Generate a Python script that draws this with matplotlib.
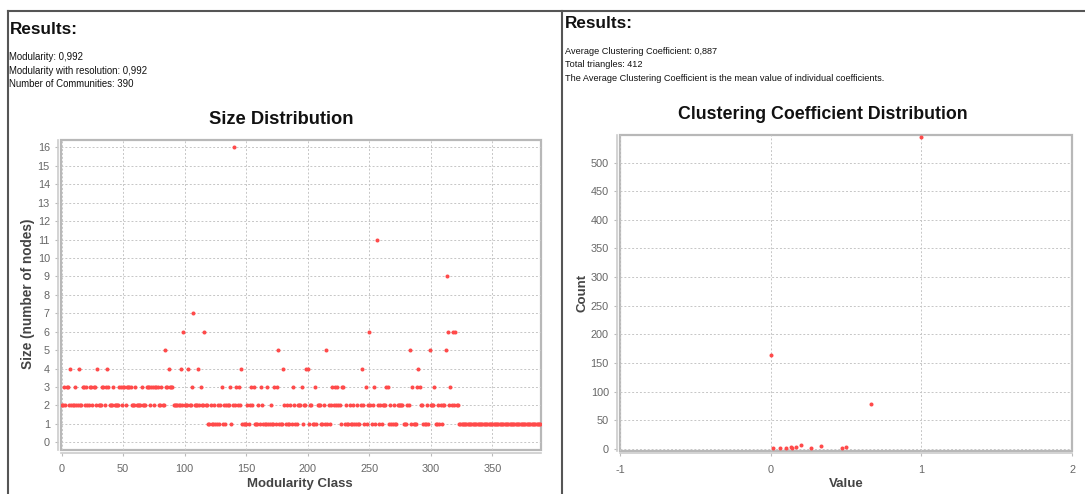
import matplotlib
matplotlib.use('Agg')
import matplotlib.pyplot as plt
from matplotlib.lines import Line2D

W, H = 1085, 494

# size of each modularity class (index = class id)
community_sizes = [
    2, 2, 3, 2, 3, 3, 2, 4, 2, 2,
    2, 3, 2, 2, 4, 2, 2, 3, 3, 2,
    3, 2, 2, 3, 3, 2, 3, 3, 2, 4,
    2, 2, 2, 3, 3, 2, 3, 4, 3, 2,
    2, 2, 3, 2, 2, 2, 2, 3, 3, 2,
    3, 3, 2, 3, 3, 3, 3, 2, 2, 2,
    3, 2, 2, 2, 2, 3, 2, 2, 2, 3,
    3, 3, 2, 3, 3, 2, 3, 3, 3, 2,
    2, 3, 2, 2, 5, 3, 3, 4, 3, 3,
    3, 2, 2, 2, 2, 2, 2, 4, 2, 6,
    2, 2, 2, 4, 2, 2, 3, 7, 2, 2,
    2, 4, 2, 3, 2, 2, 6, 2, 2, 1,
    1, 2, 1, 1, 2, 1, 1, 2, 1, 2,
    3, 1, 2, 1, 2, 2, 2, 3, 1, 2,
    16, 2, 3, 2, 3, 2, 4, 1, 1, 1,
    1, 2, 1, 2, 3, 2, 3, 1, 1, 1,
    2, 1, 3, 2, 1, 1, 1, 3, 1, 1,
    2, 1, 1, 3, 1, 3, 5, 1, 1, 1,
    4, 2, 1, 2, 1, 1, 2, 1, 3, 2,
    1, 1, 2, 2, 2, 3, 1, 2, 2, 4,
    4, 1, 2, 2, 1, 1, 3, 1, 2, 2,
    2, 1, 1, 2, 1, 5, 1, 2, 1, 2,
    3, 2, 3, 2, 3, 2, 2, 1, 3, 3,
    1, 2, 1, 1, 2, 1, 1, 2, 1, 1,
    2, 1, 1, 2, 4, 2, 1, 3, 1, 2,
    6, 2, 1, 2, 3, 1, 11, 2, 1, 2,
    1, 2, 2, 2, 3, 3, 1, 2, 1, 1,
    2, 1, 1, 2, 2, 2, 2, 2, 1, 1,
    1, 2, 2, 5, 1, 3, 1, 1, 1, 3,
    4, 3, 2, 2, 1, 1, 1, 2, 1, 5,
    2, 2, 2, 3, 1, 1, 2, 1, 2, 1,
    2, 2, 5, 9, 6, 2, 3, 2, 6, 2,
    6, 2, 2, 1, 1, 1, 1, 1, 1, 1,
    1, 1, 1, 1, 1, 1, 1, 1, 1, 1,
    1, 1, 1, 1, 1, 1, 1, 1, 1, 1,
    1, 1, 1, 1, 1, 1, 1, 1, 1, 1,
    1, 1, 1, 1, 1, 1, 1, 1, 1, 1,
    1, 1, 1, 1, 1, 1, 1, 1, 1, 1,
    1, 1, 1, 1, 1, 1, 1, 1, 1, 1,
]
modularity_class = list(range(len(community_sizes)))

# clustering coefficient distribution
cc_values = [0.0, 0.015, 0.064, 0.1, 0.133, 0.143, 0.167, 0.2, 0.267, 0.333, 0.476, 0.5, 0.667, 1.0]
cc_counts = [164, 1, 1, 2, 3, 1, 4, 7, 1, 5, 1, 4, 78, 544]

left_info = ["Modularity: 0,992",
             "Modularity with resolution: 0,992",
             "Number of Communities: 390"]
right_info = ["Average Clustering Coefficient: 0,887",
              "Total triangles: 412",
              "The Average Clustering Coefficient is the mean value of individual coefficients."]

plt.rcParams['font.family'] = ['Liberation Sans', 'DejaVu Sans']
plt.rcParams['axes.unicode_minus'] = False

POINT_COLOR = '#ff4a4a'
LABEL_COLOR = '#444444'


def fx(px):
    return px / W


def fy(py):
    return 1 - py / H


def style_axes(ax):
    ax.set_facecolor('white')
    ax.patch.set_edgecolor('#b8b8b8')
    ax.patch.set_linewidth(1.6)
    for s in ['top', 'right']:
        ax.spines[s].set_visible(False)
    for s in ['left', 'bottom']:
        ax.spines[s].set_position(('outward', 2))
        ax.spines[s].set_color('#cccccc')
        ax.spines[s].set_linewidth(1.2)
    ax.grid(True, color='#c6c6c6', linestyle=(0, (2, 2)), linewidth=0.7)
    ax.set_axisbelow(True)
    ax.tick_params(colors='#bbbbbb', labelcolor='#666666', labelsize=7.8, length=2)
    ax.tick_params(axis='y', pad=4)
    ax.tick_params(axis='x', pad=6)


fig = plt.figure(figsize=(W / 100, H / 100), dpi=100)
fig.patch.set_facecolor('white')

# panel borders
border = dict(color='#555555', linewidth=1.5, transform=fig.transFigure)
fig.add_artist(Line2D([fx(8), fx(1085)], [fy(11), fy(11)], **border))
fig.add_artist(Line2D([fx(8), fx(8)], [fy(11), fy(494)], **border))
fig.add_artist(Line2D([fx(562), fx(562)], [fy(11), fy(494)], **border))

# header texts
fig.text(fx(10), fy(29), "Results:", ha='left', va='center', fontsize=12.3, fontweight='bold', color='#111111')
fig.text(fx(565), fy(23), "Results:", ha='left', va='center', fontsize=12.3, fontweight='bold', color='#111111')
for i, line in enumerate(left_info):
    fig.text(fx(9), fy(57 + i * 13.5), line, ha='left', va='center', fontsize=6.9, color='#111111')
for i, line in enumerate(right_info):
    fig.text(fx(565), fy(51 + i * 13.5), line, ha='left', va='center', fontsize=6.6, color='#111111')

fig.text(fx(281), fy(119), "Size Distribution", ha='center', va='center', fontsize=13.2, fontweight='bold', color='#111111')
fig.text(fx(823), fy(114), "Clustering Coefficient Distribution", ha='center', va='center', fontsize=12.8, fontweight='bold', color='#111111')

# left chart
ax1 = fig.add_axes([fx(61), fy(450), (541 - 61) / W, (450 - 140) / H])
style_axes(ax1)
ax1.plot(modularity_class, community_sizes, 'o', color=POINT_COLOR, ms=2.9, mec='none')
ax1.set_xlim(-0.5, 389.6)
ax1.set_ylim(-0.42, 16.4)
ax1.set_xticks(range(0, 351, 50))
ax1.set_yticks(range(0, 17))

fig.text(fx(300), fy(484), "Modularity Class", ha='center', va='center', fontsize=9.5, fontweight='bold', color=LABEL_COLOR)
fig.text(fx(28), fy(294), "Size (number of nodes)", ha='center', va='center', rotation=90, fontsize=9.8, fontweight='bold', color=LABEL_COLOR)

# right chart
ax2 = fig.add_axes([fx(620), fy(450.7), (1072 - 620) / W, (450.7 - 135) / H])
style_axes(ax2)
ax2.plot(cc_values, cc_counts, 'o', color=POINT_COLOR, ms=2.9, mec='none')
ax2.set_xlim(-1, 2)
ax2.set_ylim(-3, 548)
ax2.set_xticks([-1, 0, 1, 2])
ax2.set_yticks(range(0, 501, 50))

fig.text(fx(846), fy(484), "Value", ha='center', va='center', fontsize=9.5, fontweight='bold', color=LABEL_COLOR)
fig.text(fx(582), fy(293), "Count", ha='center', va='center', rotation=90, fontsize=9.5, fontweight='bold', color=LABEL_COLOR)

fig.savefig('out.png', dpi=100, facecolor='white')
